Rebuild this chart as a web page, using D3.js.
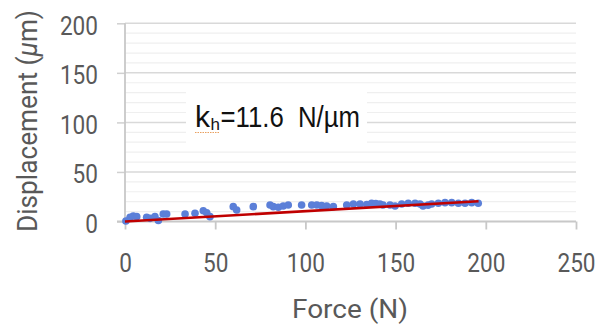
<!DOCTYPE html>
<html><head><meta charset="utf-8">
<script src="https://cdn.jsdelivr.net/npm/d3@7"></script>
<style>body{margin:0;background:#fff}</style>
</head><body>
<svg id="c" width="608" height="325"></svg>
<script>
// ---- data ----
const xTicks = [0, 50, 100, 150, 200, 250];
const yTicks = [0, 50, 100, 150, 200];
const yMinor = [10, 20, 30, 40, 60, 70, 80, 90, 110, 120, 130, 140, 160, 170, 180, 190];
const force = [0.5, 2.8, 4.6, 6.5, 12.0, 13.9, 16.6, 18.5, 21.2, 23.1, 33.3, 38.8, 43.4, 45.3, 47.1,
  60.0, 61.9, 71.1, 80.4, 82.2, 85.0, 87.7, 90.5, 97.9, 103.5, 106.3, 109.0, 111.8, 115.5,
  122.9, 126.6, 130.3, 134.0, 136.7, 139.0, 141.3, 143.0, 146.9, 149.7, 153.4, 157.0, 160.8,
  163.5, 165.2, 168.0, 170.0, 173.7, 177.4, 181.1, 184.8, 188.5, 192.2, 195.8];
const disp = [0.5, 4.3, 5.6, 4.9, 4.3, 3.2, 4.9, 1.0, 7.6, 7.6, 7.6, 8.3, 10.9, 8.9, 4.9,
  15.0, 11.6, 15.0, 16.7, 15.0, 14.4, 15.7, 16.7, 16.7, 16.7, 16.7, 16.0, 15.7, 15.0,
  16.7, 17.7, 17.7, 17.2, 18.4, 18.0, 17.7, 16.7, 16.7, 15.7, 17.7, 18.4, 18.4,
  17.7, 15.7, 16.5, 17.7, 18.4, 19.0, 19.0, 18.4, 18.4, 19.0, 18.4];
const fitForce = [0, 196];
const fitDisp = [0, 20.5];
const xTitle = "Force (N)";
const yTitleMain = "Displacement (";
const yTitleMu = "µ";
const yTitleEnd = "m)";
const annK = "k", annSub = "h", annRest = "=11.6\u00a0\u00a0N/µm";

// ---- chart ----
const svg = d3.select("#c");
const x = d3.scaleLinear().domain([0, 250]).range([125, 576]);
const y = d3.scaleLinear().domain([0, 200]).range([221.5, 23.3]);
const grey = "#595959";

// minor gridlines
svg.append("g").selectAll("line").data(yMinor).join("line")
  .attr("x1", x(0)).attr("x2", x(250))
  .attr("y1", d => y(d)).attr("y2", d => y(d))
  .attr("stroke", "#efefef").attr("stroke-width", 1.2);
// major gridlines
svg.append("g").selectAll("line").data(yTicks.filter(d => d > 0)).join("line")
  .attr("x1", x(0)).attr("x2", x(250))
  .attr("y1", d => y(d)).attr("y2", d => y(d))
  .attr("stroke", "#d9d9d9").attr("stroke-width", 1.5);

// annotation background box
svg.append("rect").attr("x", 186).attr("y", 88).attr("width", 181).attr("height", 58).attr("fill", "#fff");

// y axis
const yAxis = svg.append("g").attr("transform", `translate(${x(0)},0)`)
  .call(d3.axisLeft(y).tickValues(yTicks).tickSize(8).tickPadding(19));
yAxis.select(".domain").remove();
yAxis.selectAll(".tick line").attr("stroke", "#d0d0d0").attr("stroke-width", 1.5);
yAxis.selectAll(".tick text").attr("fill", grey).attr("font-size", 25).attr("font-family", "Roboto")
  .attr("dy", "0.44em")
  .attr("textLength", d => String(d).length * 12.7).attr("lengthAdjust", "spacingAndGlyphs");
svg.append("line").attr("x1", x(0)).attr("x2", x(0)).attr("y1", y(200)).attr("y2", y(0))
  .attr("stroke", "#c8c8c8").attr("stroke-width", 1.8);

// x axis
const xAxis = svg.append("g").attr("transform", `translate(0,${y(0)})`)
  .call(d3.axisBottom(x).tickValues(xTicks).tickSize(8));
xAxis.select(".domain").remove();
xAxis.selectAll(".tick line").attr("stroke", "#c8c8c8").attr("stroke-width", 1.8);
xAxis.selectAll(".tick text").attr("fill", grey).attr("font-size", 25).attr("font-family", "Roboto")
  .attr("y", 272 - y(0)).attr("dy", 0)
  .attr("textLength", d => String(d).length * 12.7).attr("lengthAdjust", "spacingAndGlyphs");
svg.append("line").attr("x1", x(0) - 8).attr("x2", x(250)).attr("y1", y(0)).attr("y2", y(0))
  .attr("stroke", "#c8c8c8").attr("stroke-width", 1.8);

// scatter points
svg.append("g").selectAll("circle").data(force.map((f, i) => [f, disp[i]])).join("circle")
  .attr("cx", d => x(d[0])).attr("cy", d => y(d[1])).attr("r", 3.8)
  .attr("fill", "#5b7fd8");

// fit line
svg.append("line")
  .attr("x1", x(fitForce[0])).attr("y1", y(fitDisp[0]))
  .attr("x2", x(fitForce[1])).attr("y2", y(fitDisp[1]))
  .attr("stroke", "#c00000").attr("stroke-width", 2.6);

// annotation (one text element with tspans)
svg.append("line").attr("x1", 195).attr("x2", 219).attr("y1", 132.5).attr("y2", 132.5)
  .attr("stroke", "#e8a060").attr("stroke-width", 1).attr("stroke-dasharray", "1.5,1");
const ann = svg.append("text").attr("font-family", "Liberation Sans").attr("fill", "#111");
ann.append("tspan").attr("x", 195).attr("y", 127).attr("font-size", 30).text(annK);
ann.append("tspan").attr("x", 210.5).attr("y", 129.5).attr("font-size", 17).text(annSub);
ann.append("tspan").attr("x", 220.5).attr("y", 127).attr("font-size", 29)
  .attr("textLength", 139.5).attr("lengthAdjust", "spacingAndGlyphs").text(annRest);

// axis titles
svg.append("text").attr("x", 350).attr("y", 318).attr("text-anchor", "middle")
  .attr("font-family", "Roboto").attr("font-size", 26).attr("fill", grey)
  .attr("textLength", 116).attr("lengthAdjust", "spacingAndGlyphs").text(xTitle);

const yt = svg.append("text").attr("transform", "translate(37,121) rotate(-90)")
  .attr("text-anchor", "middle").attr("font-family", "Roboto").attr("font-size", 28).attr("fill", grey)
  .attr("textLength", 222).attr("lengthAdjust", "spacingAndGlyphs");
yt.append("tspan").text(yTitleMain);
yt.append("tspan").attr("font-style", "italic").text(yTitleMu);
yt.append("tspan").text(yTitleEnd);
</script>
</body></html>
